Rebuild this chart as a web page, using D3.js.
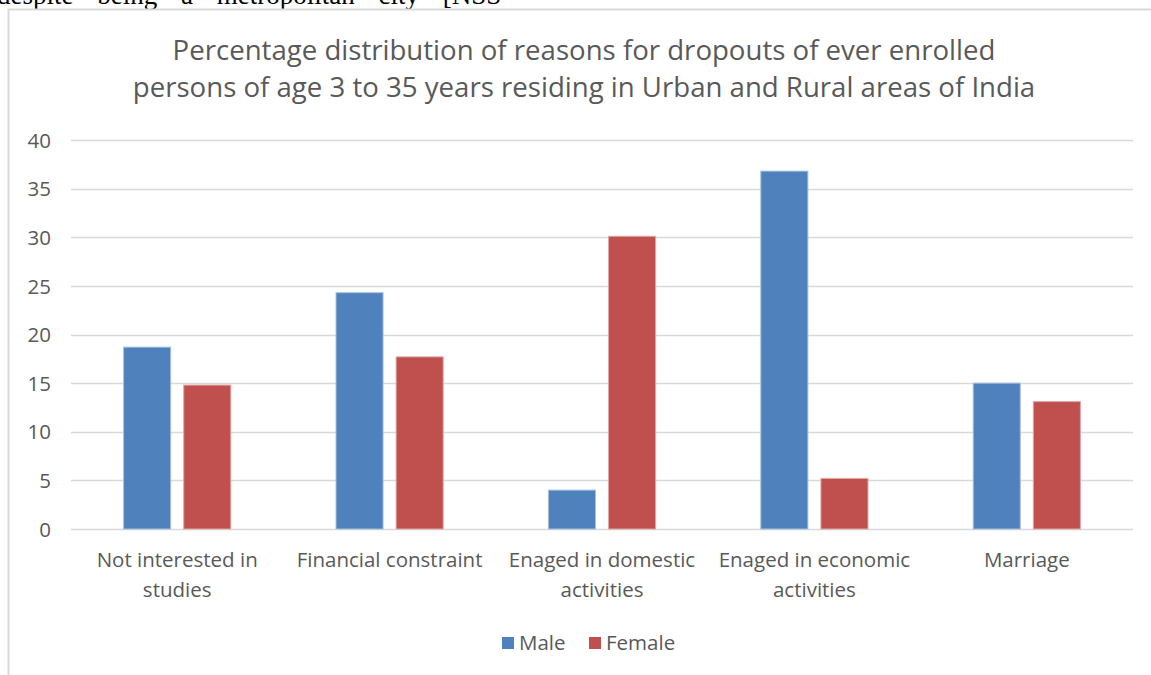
<!DOCTYPE html>
<html>
<head>
<meta charset="utf-8">
<script src="https://cdn.jsdelivr.net/npm/d3@7"></script>
<style>
  html, body { margin: 0; padding: 0; background: #fff; }
  svg { display: block; }
  text { font-family: "Open Sans", "Liberation Sans", sans-serif; fill: #595959; }
</style>
</head>
<body>
<svg id="chart" width="1151" height="675"></svg>
<script>
// Reasons for dropping out, by sex (percent of ever-enrolled persons aged 3-35)
const categories = [
  ["Not interested in", "studies"],
  ["Financial constraint"],
  ["Enaged in domestic", "activities"],
  ["Enaged in economic", "activities"],
  ["Marriage"]
];
const seriesNames = ["Male", "Female"];
const maleValues = [18.7, 24.3, 4.0, 36.8, 15.0];
const femaleValues = [14.8, 17.7, 30.1, 5.2, 13.1];
const yTicks = [0, 5, 10, 15, 20, 25, 30, 35, 40];
const titleLines = [
  "Percentage distribution of reasons for dropouts of ever enrolled",
  "persons of age 3 to 35 years residing in Urban and Rural areas of India"
];
const colors = ["#4f81bd", "#c0504d"];

const svg = d3.select("#chart");
const W = 1151, H = 675;

// Fragment of the surrounding document text above the chart frame
svg.append("text")
  .attr("x", -3).attr("y", 4)
  .style("font-family", "'Liberation Serif', 'Times New Roman', serif")
  .style("font-size", "27px")
  .style("word-spacing", "17px")
  .style("fill", "#000")
  .text("despite being a metropolitan city [NSS");

// Chart frame
svg.append("path")
  .attr("d", `M8.5,${H} V9.5 H${W}`)
  .attr("fill", "none")
  .attr("stroke", "#d9d9d9")
  .attr("stroke-width", 2);

// Title
svg.append("g").selectAll("text")
  .data(titleLines).join("text")
  .attr("x", 584)
  .attr("y", (d, i) => 60 + i * 37)
  .attr("text-anchor", "middle")
  .style("font-size", "27.6px")
  .text(d => d);

const plot = { left: 71, right: 1133, top: 140, bottom: 529 };

const x0 = d3.scaleBand()
  .domain(d3.range(categories.length))
  .range([plot.left, plot.right])
  .paddingInner(0).paddingOuter(0);

const x1 = d3.scaleBand()
  .domain(seriesNames)
  .range([0, x0.bandwidth()])
  .paddingInner(0.217)
  .paddingOuter(0.875);

const y = d3.scaleLinear().domain([0, 40]).range([plot.bottom, plot.top]);

// Gridlines
svg.append("g").selectAll("line")
  .data(yTicks).join("line")
  .attr("x1", plot.left).attr("x2", plot.right)
  .attr("y1", d => Math.round(y(d)) + 0.5)
  .attr("y2", d => Math.round(y(d)) + 0.5)
  .attr("stroke", "#d9d9d9")
  .attr("stroke-width", 1.5);

// Y axis labels
const yAxis = d3.axisLeft(y).tickValues(yTicks).tickSize(0).tickPadding(0);
const ya = svg.append("g").attr("transform", `translate(51,0)`).call(yAxis);
ya.select(".domain").remove();
ya.selectAll("text")
  .style("font-size", "20.5px")
  .style("font-family", "'Open Sans', sans-serif")
  .attr("fill", "#595959")
  .attr("dy", "0.35em");

// Bars
const rows = categories.map((c, i) => ({ i, values: [maleValues[i], femaleValues[i]] }));
const groups = svg.append("g").selectAll("g")
  .data(rows).join("g")
  .attr("transform", d => `translate(${x0(d.i)},0)`);

groups.selectAll("rect")
  .data(d => d.values.map((v, k) => ({ k, v })))
  .join("rect")
  .attr("x", d => x1(seriesNames[d.k]))
  .attr("width", x1.bandwidth())
  .attr("y", d => y(d.v))
  .attr("height", d => y(0) - y(d.v))
  .attr("fill", d => colors[d.k])
  .attr("stroke", d => d.k === 0 ? "#a7c0de" : "#dfa8a6")
  .attr("stroke-width", 1);

// X category labels
const xl = svg.append("g").selectAll("text")
  .data(categories).join("text")
  .attr("text-anchor", "middle")
  .attr("x", (d, i) => x0(i) + x0.bandwidth() / 2)
  .attr("y", 567)
  .style("font-size", "20.5px");
xl.selectAll("tspan")
  .data(d => d).join("tspan")
  .attr("x", function () { return this.parentNode.getAttribute("x"); })
  .attr("dy", (d, i) => i === 0 ? 0 : 30)
  .text(d => d);

// Legend
const legend = svg.append("g").attr("transform", "translate(502,643)");
const li = legend.selectAll("g")
  .data(seriesNames).join("g")
  .attr("transform", (d, i) => `translate(${i * 87},0)`);
li.append("rect")
  .attr("x", 0).attr("y", -6)
  .attr("width", 12).attr("height", 12)
  .attr("fill", (d, i) => colors[i]);
li.append("text")
  .attr("x", 17).attr("y", 0).attr("dy", "0.35em")
  .style("font-size", "20.5px")
  .text(d => d);
</script>
</body>
</html>
